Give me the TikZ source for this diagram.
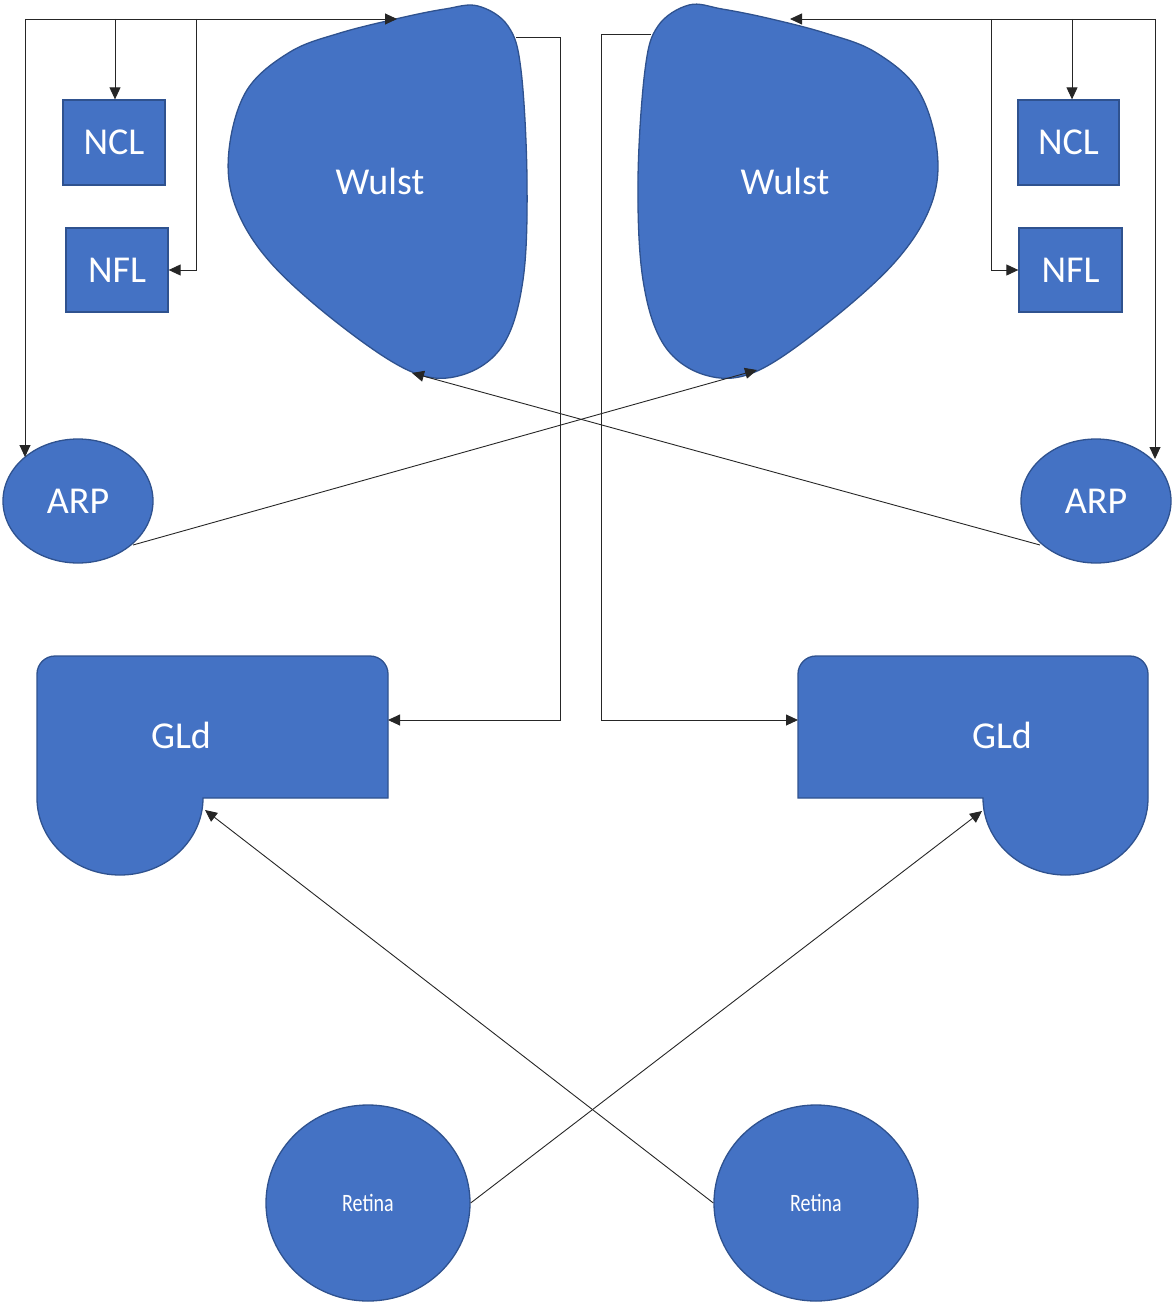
\documentclass[tikz,border=0pt]{standalone}
\usepackage{fontspec}
\setmainfont{Carlito}
\newfontfamily\retfont[FakeStretch=0.8]{Carlito}
\usetikzlibrary{arrows.meta,shapes.geometric}
\definecolor{fillblue}{HTML}{4472C4}
\definecolor{edgeblue}{HTML}{2F528F}
\tikzset{
  blob/.style={fill=fillblue,draw=edgeblue,line width=1.3pt},
  boxnode/.style={blob,rectangle,text=white,font=\fontsize{38}{40}\selectfont,inner sep=0pt},
  ovalnode/.style={blob,ellipse,text=white,font=\fontsize{38}{40}\selectfont,inner sep=0pt},
  retnode/.style={blob,ellipse,text=white,font=\retfont\fontsize{25}{28}\selectfont,inner sep=0pt,minimum width=204pt,minimum height=196pt},
  lbl/.style={text=white,font=\fontsize{38}{40}\selectfont,inner sep=0pt},
  conn/.style={draw=black!85,line width=0.9pt},
  arr/.style={conn,-{Triangle[length=12pt,width=11pt]}}
}
\begin{document}
\begin{tikzpicture}[x=1pt,y=1pt]
\useasboundingbox (0,0) rectangle (1171,-1303);

% Wulst blobs
\draw[blob] plot[smooth cycle,tension=0.6] coordinates {
 (478,-6) (508,-26) (521,-70) (527,-180) (523,-280) (503,-345) (462,-375) (412,-372)
 (340,-325) (270,-262) (235,-205) (229,-150) (247,-90) (290,-52) (340,-33) (400,-18) (445,-9)};
\node[lbl] (wulstL) at (380,-181) {Wulst};
\draw[blob] plot[smooth cycle,tension=0.6] coordinates {
 (689,-5) (722,-9) (767,-18) (825,-33) (875,-52) (918,-90) (937,-150) (931,-205)
 (895,-262) (825,-325) (755,-372) (705,-375) (664,-345) (643,-280) (638,-180) (645,-70) (658,-26)};
\node[lbl] (wulstR) at (785,-181) {Wulst};

% Wulst attachment points
\coordinate (wLtop) at (397,-19);
\coordinate (wLright) at (516,-37);
\coordinate (wLbot) at (412,-373);
\coordinate (wRtop) at (790,-19);
\coordinate (wRleft) at (651,-34);
\coordinate (wRbot) at (757,-370);

% boxes
\node[boxnode,minimum width=102pt,minimum height=85pt] (nclL) at (114,-142.5) {NCL};
\node[boxnode,minimum width=102pt,minimum height=84pt] (nflL) at (117,-270) {NFL};
\node[boxnode,minimum width=101pt,minimum height=85pt] (nclR) at (1068.5,-142.5) {NCL};
\node[boxnode,minimum width=103pt,minimum height=84pt] (nflR) at (1070.5,-270) {NFL};

% ARP
\node[ovalnode,minimum width=150pt,minimum height=124pt] (arpL) at (78,-501) {ARP};
\node[ovalnode,minimum width=150pt,minimum height=124pt] (arpR) at (1096,-501) {ARP};

% GLd shapes
\draw[blob] (37,-798) -- (37,-674) arc[start angle=180,end angle=90,radius=18]
  -- (370,-656) arc[start angle=90,end angle=0,radius=18] -- (388,-798) -- (203,-798)
  arc[start angle=0,end angle=-180,x radius=83,y radius=77] -- cycle;
\node[lbl] (gldL) at (181,-735) {GLd};
\draw[blob] (798,-798) -- (798,-674) arc[start angle=180,end angle=90,radius=18]
  -- (1130,-656) arc[start angle=90,end angle=0,radius=18] -- (1148,-798)
  arc[start angle=0,end angle=-180,x radius=82.5,y radius=77] -- cycle;
\node[lbl] (gldR) at (1002,-735) {GLd};
\coordinate (gLside) at (388,-720);
\coordinate (gLnotch) at (205,-810);
\coordinate (gRside) at (798,-720);
\coordinate (gRnotch) at (982,-811);

% Retina
\node[retnode] (retL) at (368,-1203) {Retina};
\node[retnode] (retR) at (816,-1203) {Retina};

% left bus
\coordinate (busL) at (25,-19);
\coordinate (busLncl) at (115,-19);
\coordinate (busLnfl) at (196,-19);
\coordinate (arpLtop) at (25,-457);
\draw[arr] (busL) -- (wLtop);
\draw[arr] (busL) -- (arpLtop);
\draw[arr] (busLncl) -- (nclL.north -| busLncl);
\draw[arr] (busLnfl) |- (nflL.east);

% right bus
\coordinate (busR) at (1155,-19);
\coordinate (busRncl) at (1072,-19);
\coordinate (busRnfl) at (991,-19);
\coordinate (arpRtop) at (1155,-459);
\draw[arr] (busR) -- (wRtop);
\draw[arr] (busR) -- (arpRtop);
\draw[arr] (busRncl) -- (nclR.north -| busRncl);
\draw[arr] (busRnfl) |- (nflR.west);

% Wulst -> GLd
\draw[arr] (wLright) -- (560,-37) -- (560,-720) -- (gLside);
\draw[arr] (wRleft) -- (601,-34) -- (601,-720) -- (gRside);

% ARP -> Wulst (crossed)
\coordinate (arpLout) at (133,-545);
\coordinate (arpRout) at (1040,-545);
\draw[arr] (arpLout) -- (wRbot);
\draw[arr] (arpRout) -- (wLbot);

% Retina -> GLd (crossed)
\draw[arr] (retL.east) -- (gRnotch);
\draw[arr] (retR.west) -- (gLnotch);
\end{tikzpicture}
\end{document}
